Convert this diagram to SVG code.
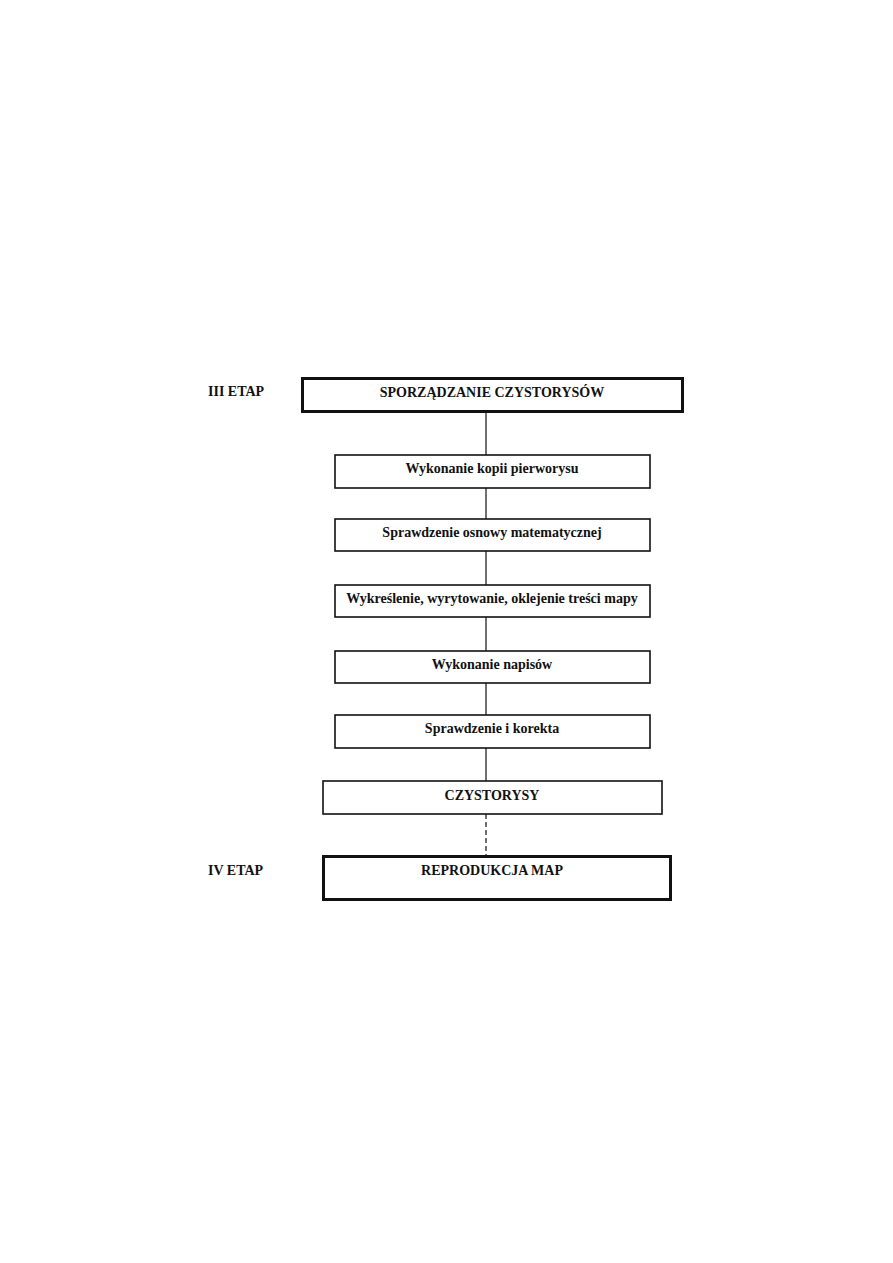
<svg xmlns="http://www.w3.org/2000/svg" width="893" height="1263" viewBox="0 0 893 1263">
<style>
text{font-family:"Liberation Serif","Times New Roman",serif;font-weight:bold;font-size:14px;fill:#111;text-anchor:middle}
.lbl{text-anchor:start}
.box{fill:#fff;stroke:#111;stroke-width:1.6}
.thick{fill:#fff;stroke:#111;stroke-width:3}
.conn{stroke:#111;stroke-width:1.2;fill:none}
</style>
<rect width="893" height="1263" fill="#fff"/>
<g id="connectors">
<line class="conn" x1="486" y1="411" x2="486" y2="455"/>
<line class="conn" x1="486" y1="488" x2="486" y2="519"/>
<line class="conn" x1="486" y1="551" x2="486" y2="585"/>
<line class="conn" x1="486" y1="617" x2="486" y2="651"/>
<line class="conn" x1="486" y1="683" x2="486" y2="715"/>
<line class="conn" x1="486" y1="748" x2="486" y2="781"/>
<line class="conn" x1="486" y1="814" x2="486" y2="856" stroke-dasharray="5,3"/>
</g>
<g id="label3"><text class="lbl" x="208" y="396">III ETAP</text></g>
<g id="label4"><text class="lbl" x="208" y="875">IV ETAP</text></g>
<g id="n1"><rect class="thick" x="302.5" y="378.5" width="380" height="33"/><text x="492" y="397">SPORZĄDZANIE CZYSTORYSÓW</text></g>
<g id="n2"><rect class="box" x="335" y="455" width="315" height="33"/><text x="492" y="473">Wykonanie kopii pierworysu</text></g>
<g id="n3"><rect class="box" x="335" y="519" width="315" height="32"/><text x="492" y="537">Sprawdzenie osnowy matematycznej</text></g>
<g id="n4"><rect class="box" x="335" y="585" width="315" height="32"/><text x="492" y="603">Wykreślenie, wyrytowanie, oklejenie treści mapy</text></g>
<g id="n5"><rect class="box" x="335" y="651" width="315" height="32"/><text x="492" y="669">Wykonanie napisów</text></g>
<g id="n6"><rect class="box" x="335" y="715" width="315" height="33"/><text x="492" y="733">Sprawdzenie i korekta</text></g>
<g id="n7"><rect class="box" x="323" y="781" width="339" height="33" stroke-width="1.3"/><text x="492" y="800">CZYSTORYSY</text></g>
<g id="n8"><rect class="thick" x="323.5" y="856.5" width="347" height="43"/><text x="492" y="875">REPRODUKCJA MAP</text></g>
</svg>
